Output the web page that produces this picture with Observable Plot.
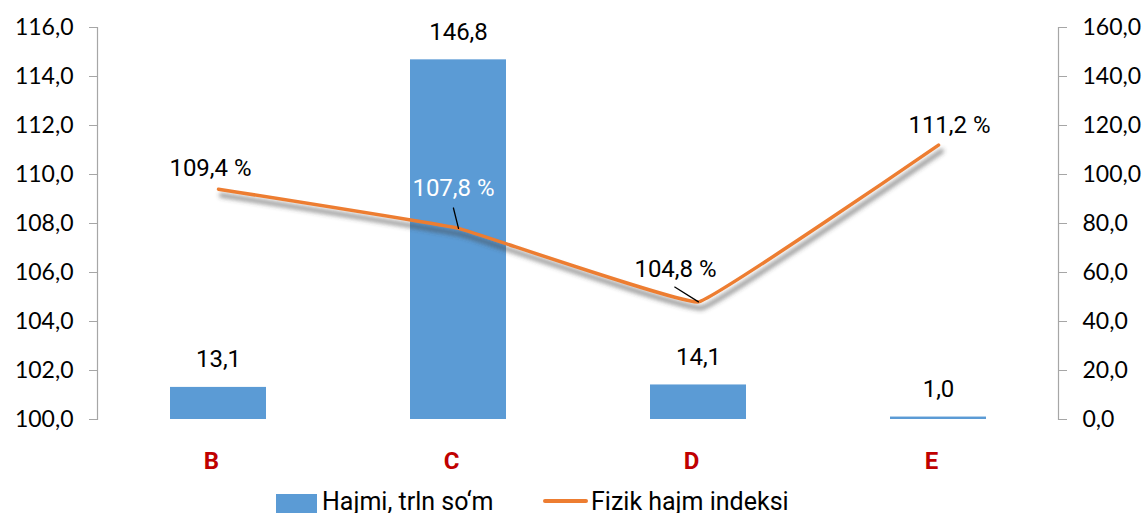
<!DOCTYPE html>
<html>
<head>
<meta charset="utf-8">
<script src="https://cdn.jsdelivr.net/npm/d3@7"></script>
<script src="https://cdn.jsdelivr.net/npm/@observablehq/plot@0.6"></script>
<style>
  html, body { margin: 0; padding: 0; background: #fff; }
  #wrap { position: relative; width: 1146px; height: 513px; overflow: hidden; background: #fff; }
  #wrap svg { position: absolute; left: 0; top: 0; background: transparent; }
  .leg { position: absolute; font-family: Roboto, "Liberation Sans", sans-serif; font-size: 25px; color: #000; white-space: nowrap; line-height: 1; }
</style>
</head>
<body>
<div id="wrap"></div>
<script>
const categories = ["B", "C", "D", "E"];
const volume = [13.1, 146.8, 14.1, 1.0];       // Hajmi, trln so‘m (right axis)
const physIndex = [109.4, 107.8, 104.8, 111.2]; // Fizik hajm indeksi, % (left axis)
const leftTicks = [100, 102, 104, 106, 108, 110, 112, 114, 116];
const rightTicks = [0, 20, 40, 60, 80, 100, 120, 140, 160];
const seriesNames = ["Hajmi, trln so‘m", "Fizik hajm indeksi"];

const data = categories.map((c, i) => ({cat: c, vol: volume[i], idx: physIndex[i]}));
const fmt = d => d.toFixed(1).replace(".", ",");

const W = 1146, H = 475;
const common = {
  width: W, height: H, marginTop: 27, marginBottom: 56, marginLeft: 97, marginRight: 88,
  style: {background: "transparent", color: "#000", fontFamily: "Roboto, sans-serif", overflow: "visible"}
};
const xScale = {domain: categories, type: "band", paddingInner: 0.6, paddingOuter: 0.3};

// Bars (right axis)
const bars = Plot.plot({
  ...common,
  x: {...xScale, axis: null, label: null},
  y: {domain: [0, 160], axis: null, label: null},
  marks: [
    Plot.barY(data, {x: "cat", y: "vol", fill: "#5B9BD5"}),
    Plot.text(data, {x: "cat", y: "vol", text: d => fmt(d.vol), dy: -28, fontSize: 24, fill: "#000"}),
    Plot.frame({anchor: "right", stroke: "#A6A6A6", strokeWidth: 1.2}),
    Plot.axisY(rightTicks, {anchor: "right", label: null, tickSize: 8, tickPadding: 16, tickFormat: fmt,
      fontSize: 23, stroke: "#A6A6A6", fill: "#000", fontFamily: "Lato, sans-serif"}),
    Plot.axisX({anchor: "bottom", label: null, tickSize: 0, tickPadding: 32, dx: -7, fontSize: 24,
      fontWeight: "bold", fill: "#C00000", fontFamily: "Roboto, sans-serif"})
  ]
});

// Line (left axis)
const labelOffsets = [[-8, -21], [-5, -40], [-23, -33], [11, -20]];
const labelFills = ["#000", "#fff", "#000", "#000"];
const leaderShape = {draw(ctx, l) { ctx.moveTo(0, 0); ctx.lineTo(0, -l); }};
const curve = "cardinal";
const lineMarks = [
  Plot.frame({anchor: "left", stroke: "#A6A6A6", strokeWidth: 1.2}),
  Plot.axisY(leftTicks, {anchor: "left", label: null, tickSize: 8, tickPadding: 16, tickFormat: fmt,
    fontSize: 23, stroke: "#A6A6A6", fill: "#000", fontFamily: "Lato, sans-serif"}),
  Plot.line(data, {x: "cat", y: "idx", curve, tension: 0.8, stroke: "#444", strokeOpacity: 0.5,
    strokeWidth: 5, dx: 3, dy: 6}),
  Plot.line(data, {x: "cat", y: "idx", curve, tension: 0.8, stroke: "#ED7D31", strokeWidth: 3.5}),
  Plot.vector(data.filter(d => d.cat === "C"), {x: "cat", y: "idx", length: 21, rotate: -14,
    anchor: "start", shape: leaderShape, stroke: "#000", strokeWidth: 1.3}),
  Plot.vector(data.filter(d => d.cat === "D"), {x: "cat", y: "idx", length: 28, rotate: -58,
    anchor: "start", shape: leaderShape, stroke: "#000", strokeWidth: 1.3})
];
data.forEach((d, i) => {
  lineMarks.push(Plot.text([d], {x: "cat", y: "idx", text: v => fmt(v.idx) + " %",
    dx: labelOffsets[i][0], dy: labelOffsets[i][1], fontSize: 24, fill: labelFills[i]}));
});
const line = Plot.plot({
  ...common,
  x: {...xScale, axis: null, label: null},
  y: {domain: [100, 116], axis: null, label: null},
  marks: lineMarks
});

// blur the shadow line
const ns = "http://www.w3.org/2000/svg";
const defs = document.createElementNS(ns, "defs");
defs.innerHTML = '<filter id="shadowBlur" x="-10%" y="-50%" width="120%" height="200%"><feGaussianBlur stdDeviation="2.2"/></filter>';
line.insertBefore(defs, line.firstChild);
const lineGroups = line.querySelectorAll('g[aria-label="line"]');
if (lineGroups.length) lineGroups[0].setAttribute("filter", "url(#shadowBlur)");

const wrap = document.getElementById("wrap");
wrap.appendChild(bars);
wrap.appendChild(line);

// Legend
const sw = document.createElement("div");
sw.style.cssText = "position:absolute;left:276px;top:494px;width:41px;height:19px;background:#5B9BD5;";
wrap.appendChild(sw);
const t1 = document.createElement("div");
t1.className = "leg"; t1.style.left = "322px"; t1.style.top = "489px"; t1.textContent = seriesNames[0];
wrap.appendChild(t1);
const ln = document.createElement("div");
ln.style.cssText = "position:absolute;left:543px;top:499px;width:45px;height:4px;background:#ED7D31;border-radius:2px;";
wrap.appendChild(ln);
const t2 = document.createElement("div");
t2.className = "leg"; t2.style.left = "591px"; t2.style.top = "489px"; t2.textContent = seriesNames[1];
wrap.appendChild(t2);
</script>
</body>
</html>
